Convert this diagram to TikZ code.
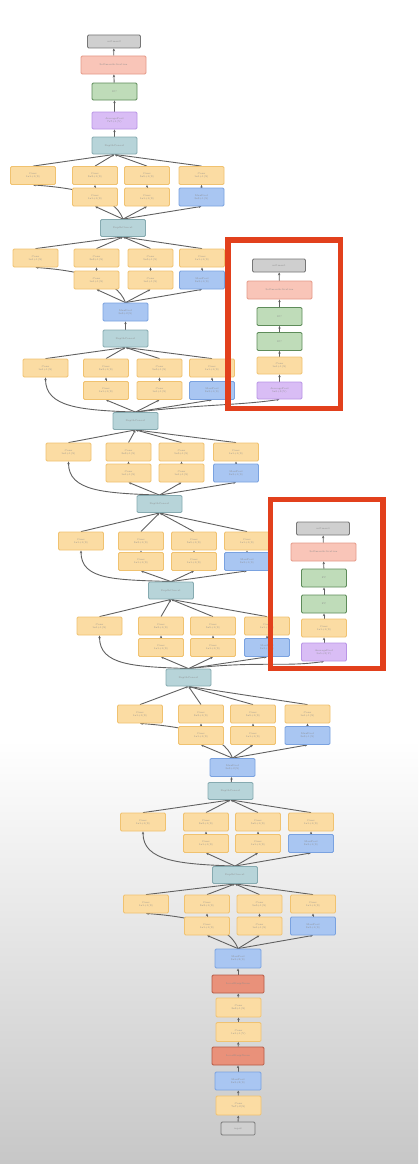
\documentclass[tikz,border=0pt]{standalone}
\usetikzlibrary{arrows.meta}
\pgfdeclarelayer{back}
\pgfdeclarelayer{edges}
\pgfsetlayers{back,edges,main}
\definecolor{orF}{HTML}{FBDCA3}
\definecolor{orD}{HTML}{F0C270}
\definecolor{blF}{HTML}{A9C6F2}
\definecolor{blD}{HTML}{7AA2E0}
\definecolor{teF}{HTML}{B7D4D9}
\definecolor{teD}{HTML}{86AAB0}
\definecolor{grF}{HTML}{BFDCB9}
\definecolor{grD}{HTML}{5E8C5A}
\definecolor{puF}{HTML}{D9BDF5}
\definecolor{puD}{HTML}{B995E6}
\definecolor{rlF}{HTML}{F9C5B8}
\definecolor{rlD}{HTML}{E59A88}
\definecolor{rdF}{HTML}{E9917A}
\definecolor{rdD}{HTML}{B55A45}
\definecolor{gyF}{HTML}{CFCFCF}
\definecolor{gyD}{HTML}{777777}
\definecolor{frameRed}{HTML}{E2401C}
\tikzset{
  box/.style={rectangle, rounded corners=1.2pt, inner sep=0pt, line width=0.8pt,
    font=\fontsize{2.5}{2.9}\selectfont, text=black!45, align=center,
    minimum width=45pt, minimum height=18pt},
  ob/.style={box, fill=orF, draw=orD},
  bb/.style={box, fill=blF, draw=blD},
  tb/.style={box, fill=teF, draw=teD, minimum height=17pt},
  gb/.style={box, fill=grF, draw=grD},
  pb/.style={box, fill=puF, draw=puD},
  rlb/.style={box, fill=rlF, draw=rlD, minimum width=65pt},
  rdb/.style={box, fill=rdF, draw=rdD, minimum width=52pt},
  gyb/.style={box, fill=gyF, draw=gyD, minimum width=53pt, minimum height=13pt},
  ed/.style={draw=black!62, line width=0.9pt, -{Stealth[length=2.8pt,width=2.4pt]}},
  redframe/.style={draw=frameRed, line width=5.5pt},
}
\newcommand\incmod[7]{%
  \node[ob] (#1L) at (#2,#6) {Conv\\1x1+1(S)};
  \node[ob] (#1A) at (#3,#6) {Conv\\3x3+1(S)};
  \node[ob] (#1a) at (#3,#7) {Conv\\1x1+1(S)};
  \node[ob] (#1B) at (#4,#6) {Conv\\5x5+1(S)};
  \node[ob] (#1b) at (#4,#7) {Conv\\1x1+1(S)};
  \node[ob] (#1R) at (#5,#6) {Conv\\1x1+1(S)};
  \node[bb] (#1r) at (#5,#7) {MaxPool\\3x3+1(S)};
}
\newcommand\incedges[3]{%
  \begin{pgfonlayer}{edges}
  \draw[ed] (#1L.north) -- (#2.south);
  \draw[ed] (#1A.north) -- (#2.south);
  \draw[ed] (#1B.north) -- (#2.south);
  \draw[ed] (#1R.north) -- (#2.south);
  \draw[ed] (#1a.north) -- (#1A.south);
  \draw[ed] (#1b.north) -- (#1B.south);
  \draw[ed] (#1r.north) -- (#1R.south);
  \draw[ed] (#3.north) -- (#1a.south);
  \draw[ed] (#3.north) -- (#1b.south);
  \draw[ed] (#3.north) -- (#1r.south);
  \end{pgfonlayer}}
\newcommand\leftstraight[2]{%
  \begin{pgfonlayer}{edges}
  \draw[ed] (#2.north) .. controls +(-9,-25) and +(40,3) .. (#1L.south);
  \end{pgfonlayer}}
\newcommand\leftcurve[2]{%
  \begin{pgfonlayer}{edges}
  \draw[ed] (#2.north) .. controls +(-55,-2) and +(0,30) .. (#1L.south);
  \end{pgfonlayer}}
\begin{document}
\begin{tikzpicture}[x=1pt,y=-1pt]
\useasboundingbox (0,0) rectangle (418,1164);
\begin{pgfonlayer}{back}
  \fill[white] (0,0) rectangle (418,1164);
  \shade[top color=white,bottom color=black!22] (0,740) rectangle (418,1164);
\end{pgfonlayer}

% top chain
\node[gyb] (sm2) at (114,41.5) {softmax2};
\node[rlb] (act) at (113.5,65) {SoftmaxActivation};
\node[gb, minimum height=17pt] (fc) at (114.5,91.5) {FC};
\node[pb, minimum height=17pt] (avg) at (114.5,120.5) {AveragePool\\7x7+1(V)};

% concat and pool nodes
\node[tb] (c5b) at (114.5,145.5) {DepthConcat};
\node[tb] (c5a) at (123,228) {DepthConcat};
\node[bb] (mp5) at (125.5,312) {MaxPool\\3x3+2(S)};
\node[tb] (c4e) at (125.5,338.5) {DepthConcat};
\node[tb] (c4d) at (135.5,421) {DepthConcat};
\node[tb] (c4c) at (159.5,504) {DepthConcat};
\node[tb] (c4b) at (171,590.5) {DepthConcat};
\node[tb] (c4a) at (188.5,677.5) {DepthConcat};
\node[bb] (mp4) at (232.5,767.5) {MaxPool\\3x3+2(S)};
\node[tb] (c3b) at (230.5,791) {DepthConcat};
\node[tb] (c3a) at (235,875) {DepthConcat};
\node[bb, minimum width=46pt, minimum height=19pt] (mp3) at (238,958.5) {MaxPool\\3x3+2(S)};

% inception modules
\incmod{mA}{33}{95}{147}{201.5}{175.5}{197}
\incmod{mB}{35.5}{96.5}{150.5}{202}{258}{280}
\incmod{mC}{45.5}{106}{159.5}{212}{368}{390.5}
\incmod{mD}{68.5}{128.5}{181.5}{236}{452}{473}
\incmod{mE}{81}{141}{194}{247}{541}{561.5}
\incmod{mF}{99.5}{161}{213}{267}{626}{647.5}
\incmod{mG}{140}{201}{253}{307.5}{714}{735.5}
\incmod{mH}{143}{206}{258}{311}{822}{843.5}
\incmod{mI}{146}{207}{259.5}{313}{904}{926}

\incedges{mA}{c5b}{c5a}
\incedges{mB}{c5a}{mp5}
\incedges{mC}{c4e}{c4d}
\incedges{mD}{c4d}{c4c}
\incedges{mE}{c4c}{c4b}
\incedges{mF}{c4b}{c4a}
\incedges{mG}{c4a}{mp4}
\incedges{mH}{c3b}{c3a}
\incedges{mI}{c3a}{mp3}
\leftstraight{mA}{c5a}
\leftstraight{mB}{mp5}
\leftcurve{mC}{c4d}
\leftcurve{mD}{c4c}
\leftcurve{mE}{c4b}
\leftcurve{mF}{c4a}
\leftstraight{mG}{mp4}
\leftcurve{mH}{c3a}
\leftstraight{mI}{mp3}

% bottom chain
\node[rdb] (lrn2) at (238,984) {LocalRespNorm};
\node[ob, minimum height=19pt] (cv3) at (238.5,1007.5) {Conv\\3x3+1(S)};
\node[ob, minimum height=19pt] (cv1) at (238.5,1032) {Conv\\1x1+1(V)};
\node[rdb] (lrn1) at (238,1056) {LocalRespNorm};
\node[bb, minimum width=46pt] (mp1) at (238,1081) {MaxPool\\3x3+2(S)};
\node[ob, minimum height=19pt] (cv7) at (238.5,1105.5) {Conv\\7x7+2(S)};
\node[gyb, minimum width=34pt] (inp) at (238,1128.5) {input};

% auxiliary classifier 1
\node[gyb] (a1s) at (279,265.5) {softmax1};
\node[rlb] (a1r) at (279.5,290) {SoftmaxActivation};
\node[gb] (a1g) at (279.5,316.5) {FC};
\node[gb] (a1h) at (279.5,341.5) {FC};
\node[ob, minimum height=17pt] (a1o) at (279.5,365.5) {Conv\\1x1+1(S)};
\node[pb, minimum height=17pt] (a1p) at (279.5,390.5) {AveragePool\\5x5+3(V)};
% auxiliary classifier 2
\node[gyb] (a2s) at (323,528.5) {softmax0};
\node[rlb] (a2r) at (323.5,552) {SoftmaxActivation};
\node[gb] (a2g) at (324,578) {FC};
\node[gb] (a2h) at (324,604) {FC};
\node[ob] (a2o) at (324,628) {Conv\\1x1+1(S)};
\node[pb] (a2p) at (324,652) {AveragePool\\5x5+3(V)};

\begin{pgfonlayer}{edges}
  \draw[ed] (c5b) -- (avg);
  \draw[ed] (avg) -- (fc);
  \draw[ed] (fc) -- (act);
  \draw[ed] (act) -- (sm2);
  \draw[ed] (c4e) -- (mp5);
  \draw[ed] (c3b) -- (mp4);
  \draw[ed] (inp) -- (cv7);
  \draw[ed] (cv7) -- (mp1);
  \draw[ed] (mp1) -- (lrn1);
  \draw[ed] (lrn1) -- (cv1);
  \draw[ed] (cv1) -- (cv3);
  \draw[ed] (cv3) -- (lrn2);
  \draw[ed] (lrn2) -- (mp3);
  \draw[ed] (a1p) -- (a1o);
  \draw[ed] (a1o) -- (a1h);
  \draw[ed] (a1h) -- (a1g);
  \draw[ed] (a1g) -- (a1r);
  \draw[ed] (a1r) -- (a1s);
  \draw[ed] (a2p) -- (a2o);
  \draw[ed] (a2o) -- (a2h);
  \draw[ed] (a2h) -- (a2g);
  \draw[ed] (a2g) -- (a2r);
  \draw[ed] (a2r) -- (a2s);
  \draw[ed] (c4d.north) .. controls +(70,-8) and +(-40,6) .. (a1p.south);
  \draw[ed] (c4a.north) .. controls +(70,-8) and +(-40,6) .. (a2p.south);
\end{pgfonlayer}

% highlight frames
\draw[redframe] (228,240) rectangle (340.5,408.7);
\draw[redframe] (270.3,499.7) rectangle (383,668.7);
\end{tikzpicture}
\end{document}
